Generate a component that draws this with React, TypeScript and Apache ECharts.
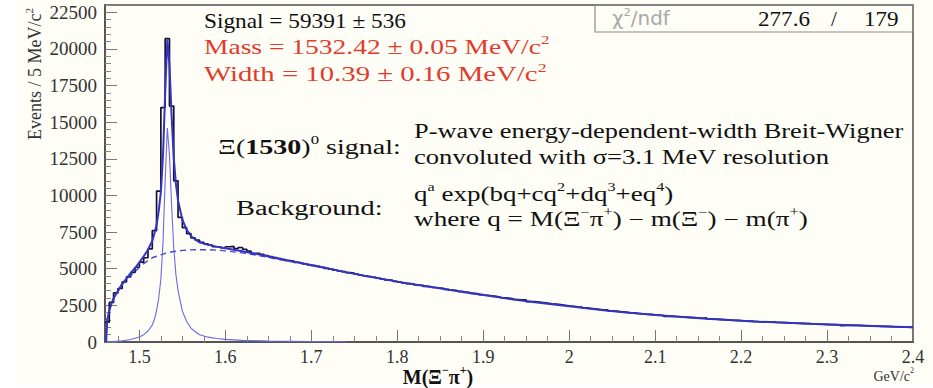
import React, { useEffect, useRef } from "react";
import * as echarts from "echarts";

// ---------- data ----------
const binLow = 1.46;
const binWidth = 0.005;
const xMin = 1.46;
const xMax = 2.4;
const yMax = 23000;

const histCounts = [
  1350, 2700, 3350, 3650, 4100, 4450, 4750, 5100, 5450, 5750,
  6350, 7600, 10300, 16000, 20700, 16100, 11000, 8500, 7800, 7400,
  7100, 6950, 6800, 6700, 6620, 6500, 6480, 6420, 6500, 6520,
  6380, 6450, 6330, 6200, 6000, 6050, 5980, 5900, 5820, 5760,
  5700, 5620, 5550, 5520, 5430, 5390, 5330, 5270, 5220, 5160,
  5100, 5030, 4980, 4900, 4850, 4800, 4730, 4700, 4630, 4570,
  4520, 4470, 4420, 4350, 4300, 4240, 4200, 4140, 4090, 4040,
  3990, 3950, 3890, 3860, 3800, 3770, 3720, 3680, 3640, 3590,
  3540, 3510, 3450, 3410, 3370, 3320, 3290, 3240, 3190, 3150,
  3110, 3070, 3020, 2990, 2950, 2900, 2870, 2880, 2760, 2750,
  2720, 2690, 2650, 2610, 2580, 2550, 2510, 2470, 2440, 2400,
  2380, 2330, 2290, 2270, 2230, 2200, 2190, 2130, 2110, 2070,
  2040, 2010, 1990, 1960, 1930, 1900, 1880, 1850, 1830, 1810,
  1740, 1760, 1740, 1720, 1700, 1680, 1660, 1640, 1620, 1640,
  1580, 1570, 1550, 1530, 1510, 1490, 1480, 1460, 1440, 1430,
  1410, 1400, 1380, 1370, 1360, 1380, 1330, 1320, 1300, 1290,
  1280, 1270, 1260, 1250, 1240, 1230, 1210, 1200, 1190, 1180,
  1170, 1120, 1150, 1140, 1130, 1120, 1110, 1100, 1090, 1080,
  1070, 1060, 1050, 1040, 1030, 1020, 1010, 1000,
];

const fitMass = [
  1.4613, 1.4625, 1.465, 1.4675, 1.47, 1.475, 1.48, 1.485, 1.49, 1.495,
  1.5, 1.505, 1.51, 1.515, 1.5175, 1.52, 1.5225, 1.525, 1.5275, 1.53,
  1.5325, 1.535, 1.5375, 1.54, 1.5425, 1.545, 1.55, 1.555, 1.56, 1.565,
  1.57, 1.58, 1.59, 1.6, 1.62, 1.64, 1.66, 1.68, 1.7, 1.72,
  1.74, 1.76, 1.78, 1.8, 1.82, 1.84, 1.86, 1.88, 1.9, 1.92,
  1.94, 1.96, 1.98, 2.0, 2.02, 2.04, 2.06, 2.08, 2.1, 2.12,
  2.14, 2.16, 2.18, 2.2, 2.22, 2.24, 2.26, 2.28, 2.3, 2.32,
  2.34, 2.36, 2.38, 2.4,
];
const fitTotal = [
  0, 1500, 2150, 2620, 2980, 3480, 3980, 4330, 4720, 5050,
  5440, 5850, 6300, 6900, 7400, 8000, 8950, 10250, 12750, 17000,
  20650, 18900, 15400, 12550, 10800, 9650, 8350, 7650, 7240, 7000,
  6800, 6630, 6510, 6400, 6190, 5965, 5720, 5485, 5255, 5010,
  4770, 4540, 4330, 4120, 3930, 3750, 3560, 3380, 3200, 3030,
  2870, 2720, 2580, 2440, 2300, 2170, 2050, 1940, 1840, 1750,
  1670, 1590, 1520, 1450, 1390, 1340, 1290, 1240, 1200, 1160,
  1120, 1080, 1040, 1000,
];

const sigMass = [
  1.46, 1.47, 1.48, 1.49, 1.495, 1.5, 1.505, 1.51, 1.515, 1.5175,
  1.52, 1.5225, 1.525, 1.5275, 1.53, 1.5325, 1.535, 1.5375, 1.54, 1.5425,
  1.545, 1.55, 1.555, 1.56, 1.565, 1.57, 1.58, 1.59, 1.6, 1.62,
  1.65, 1.7, 1.74,
];
const sigVal = [
  0, 30, 80, 170, 250, 340, 500, 750, 1150, 1550,
  2150, 3000, 4300, 6800, 11000, 14600, 12800, 9300, 6400, 4600,
  3500, 2100, 1400, 950, 700, 500, 330, 240, 180, 110,
  70, 35, 20,
];

const bgMass = [
  1.4613, 1.4625, 1.465, 1.47, 1.475, 1.48, 1.485, 1.49, 1.495, 1.5,
  1.505, 1.51, 1.515, 1.52, 1.525, 1.53, 1.535, 1.54, 1.55, 1.56,
  1.57, 1.58, 1.59, 1.6, 1.62, 1.64, 1.66, 1.68, 1.7, 1.72,
];
const bgVal = [
  0, 1500, 2150, 2950, 3450, 3900, 4250, 4550, 4800, 5100,
  5350, 5550, 5750, 5850, 5950, 6050, 6120, 6180, 6250, 6290,
  6300, 6300, 6270, 6220, 6080, 5880, 5660, 5440, 5220, 4990,
];

const xMajorTicks = [1.5, 1.6, 1.7, 1.8, 1.9, 2.0, 2.1, 2.2, 2.3, 2.4];
const xMinorTicks = [
  1.475, 1.525, 1.55, 1.575, 1.625, 1.65, 1.675, 1.725, 1.75, 1.775,
  1.825, 1.85, 1.875, 1.925, 1.95, 1.975, 2.025, 2.05, 2.075, 2.125,
  2.15, 2.175, 2.225, 2.25, 2.275, 2.325, 2.35, 2.375,
];
const yMajorTicks = [0, 2500, 5000, 7500, 10000, 12500, 15000, 17500, 20000, 22500];
const yMinorTicks = [
  500, 1000, 1500, 2000, 3000, 3500, 4000, 4500, 5500, 6000,
  6500, 7000, 8000, 8500, 9000, 9500, 10500, 11000, 11500, 12000,
  13000, 13500, 14000, 14500, 15500, 16000, 16500, 17000, 18000, 18500,
  19000, 19500, 20500, 21000, 21500, 22000, 23000,
];

// ---------- styles ----------
const SERIF = '"Liberation Serif", "DejaVu Serif", serif';
const SANS = '"DejaVu Sans", "Noto Sans", sans-serif';
const RED = "#e23b2b";
const BLUE = "#3434c4";

function richFor(size: number, color: string, weight = "normal") {
  return {
    n: { fontSize: size, fontFamily: SERIF, fill: color, lineHeight: size + 6, fontWeight: weight },
    b: { fontSize: size, fontFamily: SERIF, fill: color, lineHeight: size + 6, fontWeight: "bold" },
    s: { fontSize: Math.round(size * 0.6), fontFamily: SERIF, fill: color, lineHeight: 10, verticalAlign: "top", fontWeight: weight },
  };
}

function label(x: number, y: number, text: string, size: number, color: string, align = "left", weight = "normal", extra: any = {}) {
  return {
    type: "text",
    x,
    y,
    z: 100,
    ...extra,
    style: {
      text,
      rich: richFor(size, color, weight),
      align,
      verticalAlign: "middle",
    },
  };
}

export default function App() {
  const ref = useRef<HTMLDivElement>(null);
  useEffect(() => {
    if (!ref.current) return;
    const chart = echarts.init(ref.current, null, { renderer: "svg" });

    const histData = histCounts.map((v, i) => [binLow + i * binWidth, v]);
    histData.push([binLow + histCounts.length * binWidth, histCounts[histCounts.length - 1]]);
    const fitData = fitMass.map((m, i) => [m, fitTotal[i]]);
    const sigData = sigMass.map((m, i) => [m, sigVal[i]]);
    const bgData = bgMass.map((m, i) => [m, bgVal[i]]);

    const xBase = {
      type: "value",
      min: xMin,
      max: xMax,
      position: "bottom",
      splitLine: { show: false },
    };
    const yBase = {
      type: "value",
      min: 0,
      max: yMax,
      position: "left",
      splitLine: { show: false },
    };

    chart.setOption({
      animation: false,
      backgroundColor: "#fefdf6",
      grid: {
        left: 105,
        right: 20,
        top: 5,
        bottom: 46,
        show: true,
        borderColor: "#7a7a7a",
        borderWidth: 2,
        backgroundColor: "transparent",
      },
      xAxis: [
        {
          ...xBase,
          axisLine: { show: true, onZero: false, lineStyle: { color: "#555", width: 2 } },
          axisTick: { show: true, inside: true, length: 12, customValues: xMajorTicks, lineStyle: { color: "#777", width: 1 } },
          axisLabel: {
            customValues: xMajorTicks,
            formatter: (v: number) => String(v),
            fontFamily: SERIF,
            fontSize: 18,
            color: "#333",
            margin: 6,
          },
        },
        {
          ...xBase,
          axisLine: { show: false },
          axisTick: { show: true, inside: true, length: 6, customValues: xMinorTicks, lineStyle: { color: "#888", width: 1 } },
          axisLabel: { show: false },
        },
      ],
      yAxis: [
        {
          ...yBase,
          axisLine: { show: true, onZero: false, lineStyle: { color: "#555", width: 2 } },
          axisTick: { show: true, inside: true, length: 12, customValues: yMajorTicks, lineStyle: { color: "#777", width: 1 } },
          axisLabel: {
            customValues: yMajorTicks,
            formatter: (v: number) => String(v),
            fontFamily: SERIF,
            fontSize: 19,
            color: "#333",
            margin: 8,
          },
        },
        {
          ...yBase,
          axisLine: { show: false },
          axisTick: { show: true, inside: true, length: 6, customValues: yMinorTicks, lineStyle: { color: "#888", width: 1 } },
          axisLabel: { show: false },
        },
      ],
      series: [
        {
          name: "data",
          type: "line",
          step: "end",
          data: histData,
          symbol: "none",
          lineStyle: { color: "#141430", width: 1.7 },
          z: 2,
        },
        {
          name: "background",
          type: "line",
          data: bgData,
          symbol: "none",
          lineStyle: { color: "#4646d2", width: 1.4, type: [6, 4] },
          z: 3,
        },
        {
          name: "signal",
          type: "line",
          data: sigData,
          symbol: "none",
          lineStyle: { color: "#6a6ae6", width: 1.1 },
          z: 3,
        },
        {
          name: "fit",
          type: "line",
          data: fitData,
          symbol: "none",
          lineStyle: { color: BLUE, width: 2 },
          z: 4,
        },
      ],
      graphic: [
        { type: "rect", shape: { x: 0, y: 0, width: 15, height: 388 }, style: { fill: "#ffffff" }, z: 0, silent: true },
        { type: "rect", shape: { x: 0, y: 385, width: 933, height: 3 }, style: { fill: "#ffffff" }, z: 0, silent: true },
        label(204, 21, "{n|Signal = 59391 ± 536}", 21, "#111", "left", "normal", { scaleX: 1.11 }),
        label(204, 47, "{n|Mass = 1532.42 ± 0.05 MeV/c}{s|2}", 21, RED, "left", "normal", { scaleX: 1.31 }),
        label(204, 74, "{n|Width = 10.39 ± 0.16 MeV/c}{s|2}", 21, RED, "left", "normal", { scaleX: 1.37 }),
        label(218, 147, "{n|Ξ(}{b|1530}{n|)}{s|0}{n| signal:}", 20, "#111", "left", "normal", { scaleX: 1.4 }),
        label(414, 131, "{n|P-wave energy-dependent-width Breit-Wigner}", 20, "#111", "left", "normal", { scaleX: 1.32 }),
        label(414, 157, "{n|convoluted with σ=3.1 MeV resolution}", 20, "#111", "left", "normal", { scaleX: 1.33 }),
        label(236, 208, "{n|Background:}", 20, "#111", "left", "normal", { scaleX: 1.42 }),
        label(414, 194, "{n|q}{s|a}{n| exp(bq+cq}{s|2}{n|+dq}{s|3}{n|+eq}{s|4}{n|)}", 20, "#111", "left", "normal", { scaleX: 1.35 }),
        label(414, 219, "{n|where q = M(Ξ}{s|−}{n|π}{s|+}{n|) − m(Ξ}{s|−}{n|) − m(π}{s|+}{n|)}", 20, "#111", "left", "normal", { scaleX: 1.36 }),
        // chi2 box
        { type: "rect", shape: { x: 595, y: 5, width: 318, height: 27 }, style: { fill: "none", stroke: "#8c8c8c", lineWidth: 1.2 }, z: 90, silent: true },
        {
          type: "text",
          x: 612,
          y: 19,
          z: 100,
          scaleX: 1.05,
          style: {
            text: "{n|χ}{s|2}{n|/ndf}",
            rich: {
              n: { fontSize: 19, fontFamily: SANS, fill: "#a8a8a8", lineHeight: 24 },
              s: { fontSize: 11, fontFamily: SANS, fill: "#a8a8a8", lineHeight: 10, verticalAlign: "top" },
            },
            align: "left",
            verticalAlign: "middle",
          },
        },
        label(758, 19, "{n|277.6}", 21, "#111", "left", "normal", { scaleX: 1.1 }),
        label(831, 19, "{n|/}", 21, "#111"),
        label(864, 19, "{n|179}", 21, "#111", "left", "normal", { scaleX: 1.1 }),
        // axis titles
        label(35, 8, "{n|Events / 5 MeV/c}{s|2}", 18, "#333", "right", "normal", { rotation: Math.PI / 2 }),
        label(438, 377, "{n|M(Ξ}{s|−}{n|π}{s|+}{n|)}", 20, "#111", "center", "bold"),
        label(914, 376, "{n|GeV/c}{s|2}", 14, "#333", "right"),
      ],
    });
    return () => chart.dispose();
  }, []);
  return (
    <div
      ref={ref}
      style={{ position: "absolute", left: 0, top: 0, width: 933, height: 388 }}
    />
  );
}
